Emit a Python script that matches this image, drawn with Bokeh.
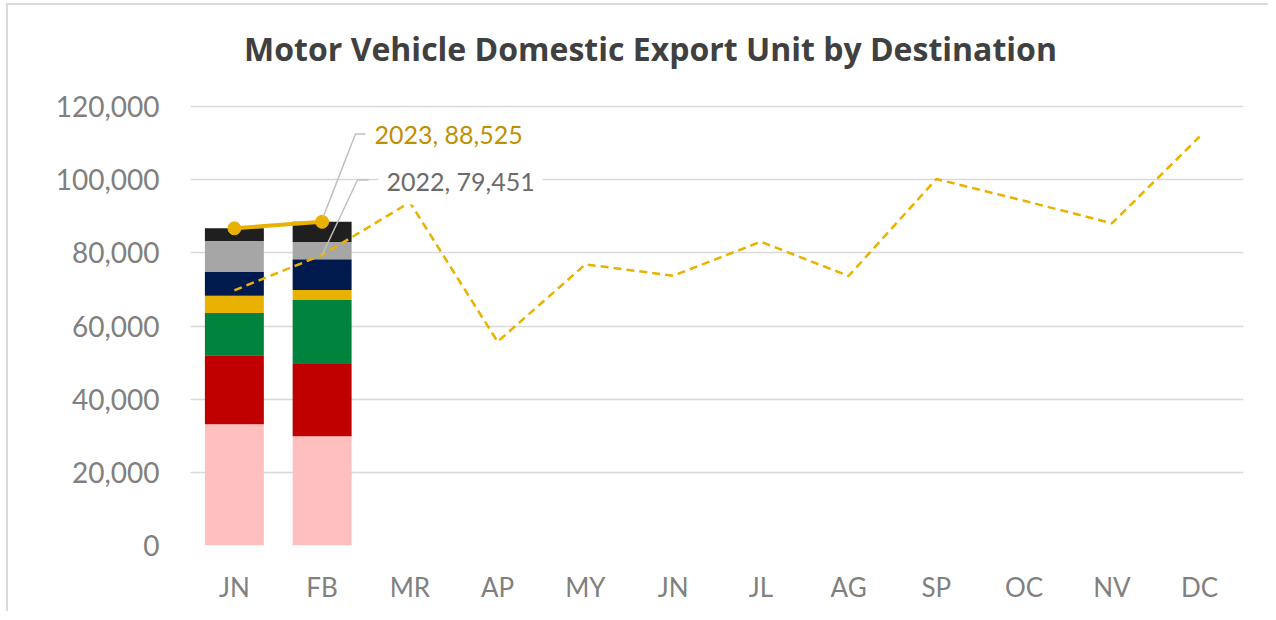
from bokeh.plotting import figure
from bokeh.models import Range1d, FixedTicker, NumeralTickFormatter, ColumnDataSource, Label
from bokeh.embed import file_html
from bokeh.resources import INLINE

# ---- data ----
months = ["JN", "FB", "MR", "AP", "MY", "JN", "JL", "AG", "SP", "OC", "NV", "DC"]
destinations = ["Asia", "Oceania", "Middle East", "Europe", "North America", "Latin America", "Others"]
colors = ["#FFBFBF", "#C00000", "#00843D", "#E9B100", "#001A4D", "#A6A6A6", "#1F1F1F"]
bars_2023 = {
    "Asia":          [33140, 29860],
    "Oceania":       [18870, 19770],
    "Middle East":   [11570, 17500],
    "Europe":        [4730, 2740],
    "North America": [6480, 8390],
    "Latin America": [8480, 4730],
    "Others":        [3470, 5535],
}
total_2023 = [86740, 88525]
total_2022 = [69790, 79451, 93850, 55730, 76890, 73780, 83070, 73700, 100220, 94270, 88110, 111790]
y_ticks = [0, 20000, 40000, 60000, 80000, 100000, 120000]
title_text = "Motor Vehicle Domestic Export Unit by Destination"

FONT = "Lato"
GOLD = "#E9B100"

# frame extends above the 120,000 line so the title can sit inside it
FRAME_H = 530
PX_PER_120K = 438.8
y_top = 120000 * FRAME_H / PX_PER_120K

p = figure(width=1260, height=606, output_backend="svg", toolbar_location=None,
           x_range=Range1d(-0.5, 11.5), y_range=Range1d(0, y_top),
           frame_width=1053, frame_height=FRAME_H,
           min_border_left=182, min_border_right=25, min_border_top=10, min_border_bottom=66)
p.styles = {"border-left": "2px solid #d9d9d9", "border-top": "2px solid #d9d9d9",
            "margin-left": "6px", "margin-top": "3px"}
p.outline_line_color = None
p.background_fill_color = "white"
p.border_fill_color = "white"

# title (screen units, relative to frame bottom-left)
p.add_layout(Label(x=460, y=497, x_units="screen", y_units="screen", text=title_text,
                   text_font="Open Sans", text_font_style="bold", text_font_size="32px",
                   text_color="#404040", text_align="center", text_baseline="middle"))

# axes
p.xaxis.ticker = FixedTicker(ticks=list(range(len(months))))
p.xaxis.major_label_overrides = {i: m for i, m in enumerate(months)}
p.yaxis.ticker = FixedTicker(ticks=y_ticks)
p.yaxis.formatter = NumeralTickFormatter(format="0,0")
for ax in (p.xaxis, p.yaxis):
    ax.axis_line_color = None
    ax.major_tick_line_color = None
    ax.minor_tick_line_color = None
    ax.major_label_text_font = FONT
    ax.major_label_text_color = "#808080"
p.xaxis.major_label_text_font_size = "26px"
p.yaxis.major_label_text_font_size = "28px"
p.xaxis.major_label_standoff = 19
p.yaxis.major_label_standoff = 25
p.xgrid.grid_line_color = None
p.ygrid.grid_line_color = "#D9D9D9"
p.ygrid.grid_line_width = 1.5

# stacked bars
src = dict(x=[0, 1])
src.update(bars_2023)
source = ColumnDataSource(src)
p.vbar_stack(destinations, x="x", width=0.672, color=colors, line_color=None, source=source)

# 2022 dashed line
xs = list(range(len(months)))
p.line(xs, total_2022, line_color=GOLD, line_width=2.5, line_dash="8 5")

# 2023 line with markers
p.line([0, 1], total_2023, line_color=GOLD, line_width=4)
p.scatter([0, 1], total_2023, size=13, color=GOLD)

# leader lines and data labels
fb23 = total_2023[1]
fb22 = total_2022[1]
p.line([1.01, 1.38, 1.494], [fb23 + 1200, fb23 + 24000, fb23 + 24000], line_color="#BFBFBF", line_width=1.5)
p.line([1.0, 1.403, 1.528], [fb22, fb22 + 20500, fb22 + 20500], line_color="#BFBFBF", line_width=1.5)
p.add_layout(Label(x=1.597, y=fb23 + 24000, text="2023, 88,525", text_font=FONT, text_font_size="25px",
                   text_color="#BF9000", text_baseline="middle", text_align="left"))
p.add_layout(Label(x=1.642, y=fb22 + 20100, text="2022, 79,451", text_font=FONT, text_font_size="25px",
                   text_color="#6B6B6B", text_baseline="middle", text_align="left",
                   background_fill_color="white", padding=8))

open("out.html", "w").write(file_html(p, INLINE))
